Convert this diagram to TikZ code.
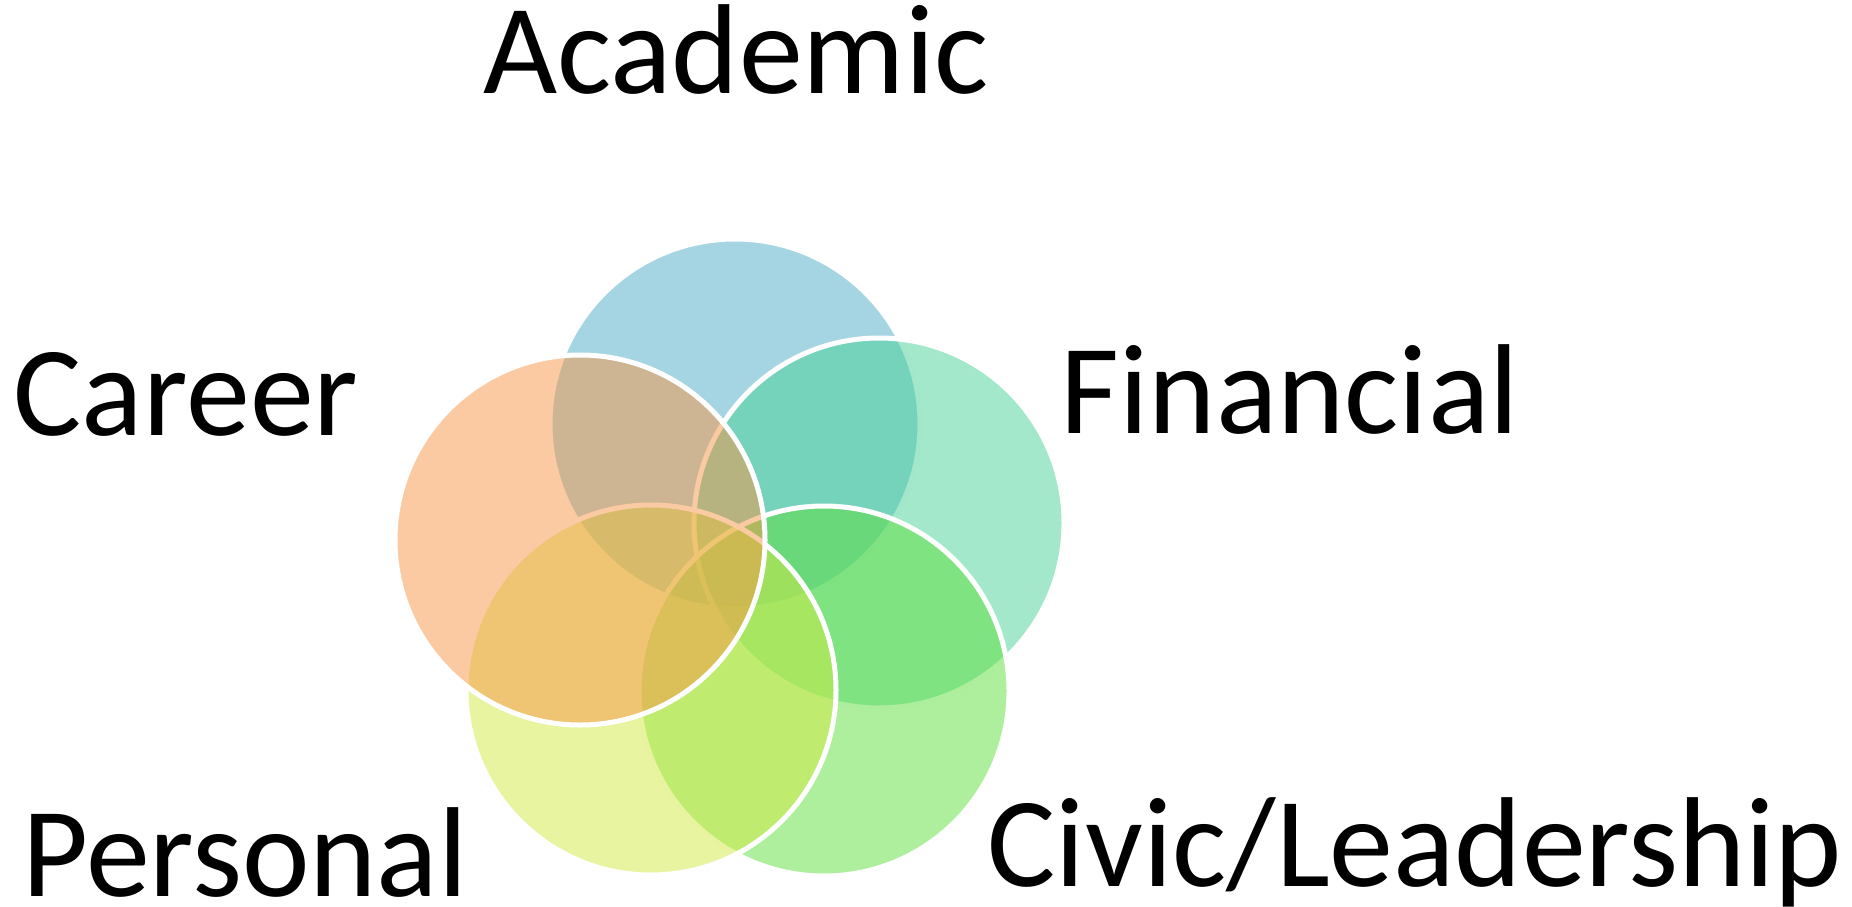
\documentclass[tikz,border=0pt]{standalone}
\usepackage{fontspec}
\setmainfont{Carlito}
% couleurs des cercles (remplies a 50%)
\definecolor{AcadColor}{HTML}{4BACC6}
\definecolor{FinColor}{HTML}{47D195}
\definecolor{CivColor}{HTML}{5DDF3B}
\definecolor{PersColor}{HTML}{D1E941}
\definecolor{CarColor}{HTML}{F79646}
\begin{document}
\begin{tikzpicture}[x=1pt,y=-1pt,
  cercle/.style={circle,draw=white,line width=5pt,fill opacity=0.5,minimum size={2*\Rayon pt},inner sep=0pt},
  etiquette/.style={anchor=base,inner sep=0pt,font=\fontsize{128}{150}\selectfont}]

\useasboundingbox (0,0) rectangle (1852,907);

    %Rayon des cercles
    \def \Rayon {185}

% cercles, le dernier est au dessus
\foreach \nom/\cx/\cy/\coul in {academic/735/424/AcadColor,financial/879/523/FinColor,civic/824/691/CivColor,personal/651/690/PersColor,career/580/540/CarColor}
    {\node[cercle,fill=\coul] (\nom) at (\cx,\cy) {};}

% etiquettes
\node[etiquette] (tacademic) at (736,93) {Academic};
\node[etiquette] (tcareer) at (186,435) {Career};
\node[etiquette] (tfinancial) at (1290,433) {Financial};
\node[etiquette] (tpersonal) at (245,896) {Personal};
\node[etiquette] (tcivic) at (1415,886) {Civic/Leadership};

\end{tikzpicture}
\end{document}
